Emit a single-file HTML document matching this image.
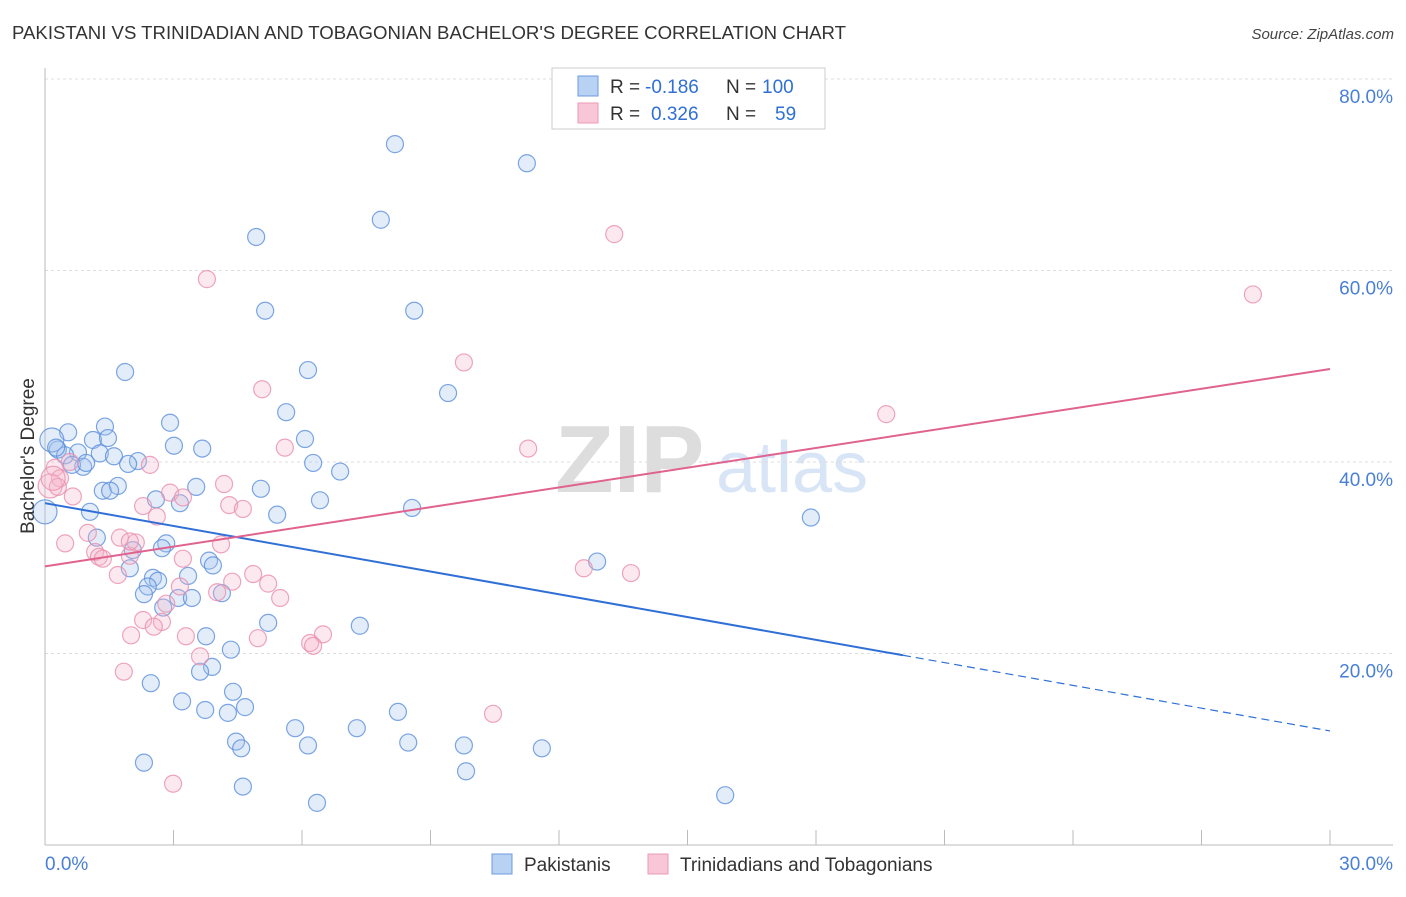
<!DOCTYPE html>
<html><head><meta charset="utf-8"><style>
body{margin:0;background:#fff;font-family:"Liberation Sans",sans-serif;}
svg text{font-family:"Liberation Sans",sans-serif;}
</style></head><body>
<svg id="chart" width="1406" height="892" xmlns="http://www.w3.org/2000/svg">
<text x="12" y="39" font-size="18" fill="#333" textLength="834" lengthAdjust="spacingAndGlyphs">PAKISTANI VS TRINIDADIAN AND TOBAGONIAN BACHELOR'S DEGREE CORRELATION CHART</text>
<text x="1394" y="39" font-size="15" fill="#444" text-anchor="end" font-style="italic">Source: ZipAtlas.com</text>
<g>
<text x="555" y="492" font-size="96" fill="#ddd" font-family="Liberation Serif" font-weight="bold">ZIP</text>
<text x="716" y="492" font-size="72" fill="#d8e5f6">atlas</text>
</g>
<g id="grid"></g>
<g id="axes"></g>
<g id="marks"></g>
<text transform="translate(34,456) rotate(-90)" font-size="19" fill="#333" text-anchor="middle">Bachelor's Degree</text>
<g>
<rect x="552" y="68" width="273" height="61" fill="#fff" stroke="#ccc"/>
<rect x="578" y="76" width="20" height="20" fill="#b7d2f3" stroke="#6c9be0"/>
<rect x="578" y="103" width="20" height="20" fill="#f8c6d6" stroke="#eb9ab5"/>
<text x="610" y="93" font-size="19" fill="#333">R =</text>
<text x="645" y="93" font-size="19" fill="#2f6fd6">-0.186</text>
<text x="726" y="93" font-size="19" fill="#333">N =</text>
<text x="762" y="93" font-size="19" fill="#2f6fd6">100</text>
<text x="610" y="120" font-size="19" fill="#333">R =</text>
<text x="651" y="120" font-size="19" fill="#2f6fd6">0.326</text>
<text x="726" y="120" font-size="19" fill="#333">N =</text>
<text x="775" y="120" font-size="19" fill="#2f6fd6">59</text>
</g>
<g>
<rect x="492" y="854" width="20" height="20" fill="#b7d2f3" stroke="#6c9be0"/>
<text x="524" y="871" font-size="19" fill="#333">Pakistanis</text>
<rect x="648" y="854" width="20" height="20" fill="#f8c6d6" stroke="#eb9ab5"/>
<text x="680" y="871" font-size="19" fill="#333">Trinidadians and Tobagonians</text>
</g>
</svg>
<script>
const yTicks=[20,40,60,80];
const yTickLabels=["20.0%","40.0%","60.0%","80.0%"];
const xTickLabels=["0.0%","30.0%"];
const blueX=[8.17,11.25,7.84,4.93,5.14,8.62,6.14,1.87,9.41,5.63,2.92,1.40,0.54,1.12,1.47,6.07,3.01,3.67,0.30,0.77,1.28,1.61,2.17,0.47,1.94,0.89,6.26,6.89,0.16,3.53,5.04,1.35,1.70,1.52,2.59,3.15,6.42,8.57,17.88,1.05,5.42,0,1.21,2.83,2.73,2.05,3.83,3.92,12.89,1.98,3.34,2.52,2.64,2.40,2.31,4.13,3.11,3.43,2.76,5.21,7.35,3.76,4.34,3.90,3.62,2.47,4.39,3.20,4.67,3.74,4.27,8.24,5.84,7.28,4.46,4.58,6.14,8.48,9.78,11.60,2.31,9.83,4.62,6.35,15.88,0.26,0.63,0.96];
const blueY=[73.2,71.2,65.3,63.5,55.8,55.8,49.6,49.4,47.2,45.2,44.1,43.7,43.1,42.3,42.5,42.4,41.7,41.4,41.3,41.0,40.9,40.6,40.1,40.7,39.8,39.5,39.9,39.0,42.3,37.4,37.2,37.0,37.5,37.0,36.1,35.7,36.0,35.2,34.2,34.8,34.5,34.8,32.1,31.5,31.0,30.8,29.7,29.2,29.6,28.9,28.1,27.9,27.6,27.0,26.2,26.3,25.8,25.8,24.8,23.2,22.9,21.8,20.4,18.6,18.1,16.9,16.0,15.0,14.4,14.1,13.8,13.9,12.2,12.2,10.8,10.1,10.4,10.7,10.4,10.1,8.6,7.7,6.1,4.4,5.2,41.5,39.7,39.9];
const pinkX=[13.29,3.78,28.20,9.78,5.07,19.64,11.28,5.60,2.45,0.23,0.58,0.35,0.12,0.65,4.18,2.92,2.29,4.30,4.62,2.61,1.00,0.47,1.75,1.17,1.26,1.35,1.98,2.12,3.22,4.11,1.70,4.37,4.86,5.21,12.58,13.68,3.15,4.02,5.49,2.83,2.73,2.29,2.54,3.29,2.01,3.62,4.97,6.49,6.19,6.26,1.84,10.46,2.99,0.30,1.98,3.22,0.19];
const pinkY=[63.8,59.1,57.5,50.4,47.6,45.0,41.4,41.5,39.7,39.4,40.0,38.3,37.5,36.4,37.7,36.8,35.4,35.5,35.1,34.3,32.6,31.5,32.1,30.6,30.1,29.9,30.2,31.6,29.9,31.4,28.2,27.5,28.3,27.3,28.9,28.4,27.0,26.4,25.8,25.2,23.3,23.5,22.8,21.8,21.9,19.7,21.6,22.0,21.1,20.8,18.1,13.7,6.4,37.4,31.7,36.3,38.3];
const blueTrend=[35.7,-0.793];
const pinkTrend=[29.1,0.687];
const blueSolidEnd=20.03;

const NS="http://www.w3.org/2000/svg";
const X=v=>45+v*(1285/30);
const Y=v=>845-v*9.575;
function mk(tag,attrs,parent){const e=document.createElementNS(NS,tag);for(const k in attrs)e.setAttribute(k,attrs[k]);parent.appendChild(e);return e;}
const grid=document.getElementById('grid'),axes=document.getElementById('axes'),marks=document.getElementById('marks');
yTicks.forEach((t,i)=>{
  const l=mk('line',{x1:45,x2:1393,y1:Y(t),y2:Y(t),stroke:'#ddd','stroke-dasharray':'3,3'},grid);
  
  
  const tx=mk('text',{x:1393,y:Y(t)+24,'font-size':19,fill:'#4a7fd6','text-anchor':'end'},axes);
  tx.textContent=yTickLabels[i];
  
  
});
const ya=mk('line',{x1:45,x2:45,y1:68,y2:845,stroke:'#bbb'},axes);


const xa=mk('line',{x1:45,x2:1393,y1:845,y2:845,stroke:'#bbb'},axes);


for(let i=1;i<=10;i++){
  const tk=mk('line',{x1:X(i*3),x2:X(i*3),y1:830,y2:845,stroke:'#bbb'},axes);
  
  
}
const xl0=mk('text',{x:45,y:870,'font-size':19,fill:'#4a7fd6'},axes);xl0.textContent=xTickLabels[0];


const xl1=mk('text',{x:1393,y:870,'font-size':19,fill:'#4a7fd6','text-anchor':'end'},axes);xl1.textContent=xTickLabels[1];



function pts(xs,ys,fill,stroke,name){
  xs.forEach((x,i)=>{
    const big=x<0.2;
    const c=mk('circle',{cx:X(x),cy:Y(ys[i]),r:big?12:8.5,fill:fill,'fill-opacity':0.3,stroke:stroke,'stroke-opacity':0.8,'stroke-width':1.2},marks);
    
    
  });
}
pts(blueX,blueY,'#a3c4f0','#5b8fdc','pakistani-point');
pts(pinkX,pinkY,'#f5b5ca','#e98fae','trinidadian-point');
const b1=mk('line',{x1:X(0),y1:Y(blueTrend[0]),x2:X(blueSolidEnd),y2:Y(blueTrend[0]+blueTrend[1]*blueSolidEnd),stroke:'#2f6fd6','stroke-width':2},marks);


const b2=mk('line',{x1:X(blueSolidEnd),y1:Y(blueTrend[0]+blueTrend[1]*blueSolidEnd),x2:X(30),y2:Y(blueTrend[0]+blueTrend[1]*30),stroke:'#2f6fd6','stroke-width':1.2,'stroke-dasharray':'8,5'},marks);


const p1=mk('line',{x1:X(0),y1:Y(pinkTrend[0]),x2:X(30),y2:Y(pinkTrend[0]+pinkTrend[1]*30),stroke:'#e0628f','stroke-width':2},marks);


</script>
</body></html>
